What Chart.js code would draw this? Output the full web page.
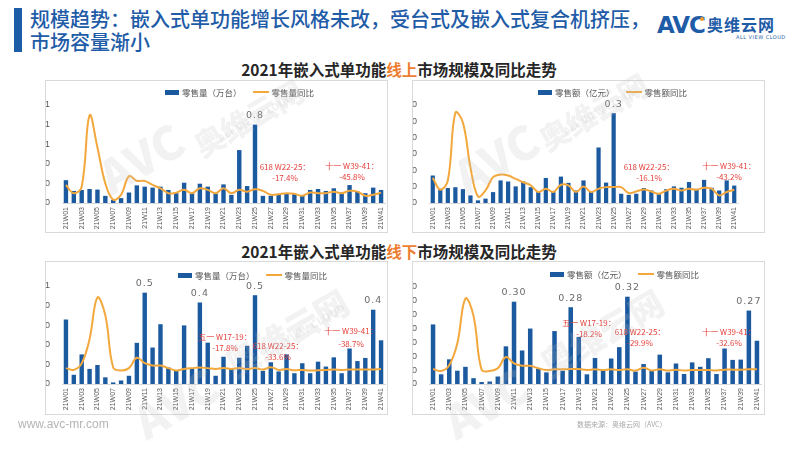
<!DOCTYPE html>
<html>
<head>
<meta charset="utf-8">
<script src="https://cdn.jsdelivr.net/npm/chart.js@4.4.0/dist/chart.umd.min.js"></script>
<style>
  body { margin: 0; width: 800px; height: 450px; background: #fff; position: relative; overflow: hidden;
         font-family: "Noto Sans CJK SC", "Noto Sans", sans-serif; }
  .side-bar { position: absolute; left: 14px; top: 8px; width: 8px; height: 44px; background: #1f5ca8; }
  .main-title { position: absolute; left: 30px; top: 7px; font-size: 20px; line-height: 23px; color: #1f5ca8; font-weight: 500; white-space: nowrap; }
  .logo-avc { position: absolute; left: 657px; top: 12px; font: 900 23px "DejaVu Sans", sans-serif; color: #1f5ca8; letter-spacing: -1px; }
  .logo-dot { position: absolute; left: 700px; top: 17px; width: 4px; height: 4px; border-radius: 2px; background: #f39a2b; }
  .logo-cn { position: absolute; left: 707px; top: 12px; font-size: 16px; font-weight: 700; color: #1f5ca8; letter-spacing: 1px; }
  .logo-en { position: absolute; left: 736px; top: 34px; font: 5px "DejaVu Sans", sans-serif; color: #1f5ca8; letter-spacing: 0.5px; }
  .sec-title { position: absolute; left: 0; width: 798px; text-align: center; font-size: 15.5px; font-weight: 700; color: #262626; white-space: nowrap; }
  .sec-title span { color: #ed7d31; }
  .panel { position: absolute; border: 1px solid #d9d9d9; box-sizing: border-box; overflow: hidden; }
  .panel canvas { position: absolute; left: -1px; top: -1px; }
  .legend { position: absolute; display: flex; align-items: center; font-size: 8.5px; color: #595959; white-space: nowrap; height: 12px; }
  .legend .mk-bar { width: 14px; height: 5px; margin-right: 3px; }
  .legend .mk-line { width: 16px; height: 2px; margin-right: 3px; margin-left: 11px; }
  .note { position: absolute; transform: translateX(-50%); color: #e5423d; font-size: 8px; text-align: center; line-height: 10.5px; white-space: nowrap; }
  .wm { position: absolute; color: rgba(190,190,190,0.2); font-weight: 900; white-space: nowrap; transform-origin: left top; pointer-events: none; }
  .footer { position: absolute; left: 18px; top: 417px; font: 12px "Liberation Sans", sans-serif; color: #b4b4b4; }
  .source { position: absolute; left: 577px; top: 419px; font-size: 7px; color: #aaa; }
</style>
</head>
<body>
<div class="side-bar"></div>
<div class="main-title">规模趋势：嵌入式单功能增长风格未改，受台式及嵌入式复合机挤压，<br>市场容量渐小</div>
<div class="logo-avc">AVC</div>
<div class="logo-dot"></div>
<div class="logo-cn">奥维云网</div>
<div class="logo-en">ALL VIEW CLOUD</div>

<div class="sec-title" style="top:58px">2021年嵌入式单功能<span>线上</span>市场规模及同比走势</div>
<div class="sec-title" style="top:240px">2021年嵌入式单功能<span>线下</span>市场规模及同比走势</div>

<div class="panel" style="left:45px;top:80px;width:343px;height:153px"><canvas id="c1" width="343" height="153"></canvas></div>
<div class="panel" style="left:412px;top:80px;width:353px;height:153px"><canvas id="c2" width="353" height="153"></canvas></div>
<div class="panel" style="left:45px;top:261px;width:343px;height:154px"><canvas id="c3" width="343" height="154"></canvas></div>
<div class="panel" style="left:412px;top:261px;width:353px;height:154px"><canvas id="c4" width="353" height="154"></canvas></div>

<div class="legend" id="lg1" style="left:165px;top:86px"></div>
<div class="legend" id="lg2" style="left:538px;top:86px"></div>
<div class="legend" id="lg3" style="left:178px;top:269px"></div>
<div class="legend" id="lg4" style="left:550px;top:268px"></div>

<div class="note" style="left:285px;top:162px">618 W22-25：<br>-17.4%</div>
<div class="note" style="left:352px;top:161px">十一 W39-41：<br>-45.8%</div>
<div class="note" style="left:649px;top:162px">618 W22-25：<br>-16.1%</div>
<div class="note" style="left:729px;top:161px">十一 W39-41：<br>-43.2%</div>
<div class="note" style="left:225px;top:332px">五一 W17-19：<br>-17.8%</div>
<div class="note" style="left:278px;top:341px">618 W22-25：<br>-33.6%</div>
<div class="note" style="left:351px;top:324px;line-height:13px">十一 W39-41：<br>-38.7%</div>
<div class="note" style="left:589px;top:318px">五一 W17-19：<br>-18.2%</div>
<div class="note" style="left:640px;top:327px">618 W22-25：<br>-29.9%</div>
<div class="note" style="left:729px;top:327px">十一 W39-41：<br>-32.6%</div>

<div class="wm" style="left:85px;top:150px;font-size:46px;transform:rotate(-30deg)">AVC</div>
<div class="wm" style="left:185px;top:128px;font-size:30px;transform:rotate(-30deg)">奥维云网</div>
<div class="wm" style="left:215px;top:132px;font-size:10px;transform:rotate(-30deg)">ALL VIEW CLOUD</div>
<div class="wm" style="left:440px;top:150px;font-size:46px;transform:rotate(-30deg)">AVC</div>
<div class="wm" style="left:530px;top:122px;font-size:30px;transform:rotate(-30deg)">奥维云网</div>
<div class="wm" style="left:560px;top:125px;font-size:10px;transform:rotate(-30deg)">ALL VIEW CLOUD</div>
<div class="wm" style="left:120px;top:395px;font-size:46px;transform:rotate(-30deg)">AVC</div>
<div class="wm" style="left:215px;top:345px;font-size:34px;transform:rotate(-30deg)">奥维云网</div>
<div class="wm" style="left:260px;top:345px;font-size:11px;transform:rotate(-30deg)">ALL VIEW CLOUD</div>
<div class="wm" style="left:430px;top:395px;font-size:46px;transform:rotate(-30deg)">AVC</div>
<div class="wm" style="left:530px;top:345px;font-size:34px;transform:rotate(-30deg)">奥维云网</div>

<div class="footer">www.avc-mr.com</div>
<div class="source">数据来源：奥维云网（AVC）</div>

<script>
// Data
const weeks = ['21W01','21W02','21W03','21W04','21W05','21W06','21W07','21W08','21W09','21W10',
  '21W11','21W12','21W13','21W14','21W15','21W16','21W17','21W18','21W19','21W20',
  '21W21','21W22','21W23','21W24','21W25','21W26','21W27','21W28','21W29','21W30',
  '21W31','21W32','21W33','21W34','21W35','21W36','21W37','21W38','21W39','21W40','21W41'];

// 线上 零售量（万台） / 同比
const onlineQty = [0.233,0.123,0.133,0.143,0.137,0.073,0.033,0.05,0.107,0.18,
  0.167,0.157,0.167,0.133,0.1,0.207,0.1,0.197,0.167,0.1,
  0.19,0.083,0.54,0.173,0.8,0.073,0.073,0.083,0.1,0.093,
  0.073,0.133,0.143,0.123,0.15,0.107,0.183,0.117,0.1,0.157,0.133];
const onlineQtyYoy = [-8,-50,-17,347,183,0,-83,-58,37,13,
  13,-8,-25,-50,-47,-33,-50,-25,-33,-50,
  -25,-50,-33,-42,-30,-38,-58,-55,-50,-53,
  -63,-47,-50,-50,-42,-50,-38,-42,-63,-58,-47];

// 线上 零售额（亿元） / 同比
const onlineAmt = [0.101,0.052,0.055,0.058,0.051,0.028,0.0097,0.016,0.040,0.083,
  0.079,0.061,0.079,0.058,0.040,0.092,0.040,0.097,0.074,0.046,
  0.083,0.040,0.204,0.075,0.33,0.034,0.030,0.034,0.055,0.046,
  0.032,0.051,0.061,0.056,0.077,0.052,0.085,0.056,0.046,0.083,0.064];
const onlineAmtYoy = [28,-32,15,361,310,82,-66,-36,32,45,
  40,23,6,-10,-44,-27,-44,-7,-10,-44,
  -16,-44,-27,-19,-19,-19,-49,-41,-31,-41,
  -53,-36,-27,-36,-27,-32,-22,-27,-61,-44,-32];

// 线下 零售量（万台） / 同比
const offlineQty = [0.329,0.047,0.151,0.077,0.097,0.034,0.008,0.018,0.042,0.21,
  0.466,0.186,0.305,0.084,0.067,0.299,0.081,0.416,0.211,0.042,
  0.139,0.081,0.134,0.195,0.453,0.067,0.111,0.064,0.151,0.055,
  0.106,0.055,0.114,0.089,0.136,0.055,0.181,0.117,0.133,0.379,0.223];
const offlineQtyYoy = [-19,-28,5,130,341,250,-16,-31,-19,34,
  6,-6,-6,-19,-31,-23,-19,-16,-19,-23,
  -19,-23,-19,-24,-19,-26,-14,-28,-24,-30,
  -28,-31,-30,-28,-26,-28,-26,-26,-26,-26,-24];

// 线下 零售额（亿元） / 同比
const offlineAmt = [0.215,0.035,0.089,0.048,0.062,0.021,0.007,0.009,0.027,0.136,
  0.297,0.121,0.2,0.056,0.042,0.191,0.048,0.277,0.17,0.035,
  0.094,0.052,0.092,0.133,0.315,0.045,0.072,0.047,0.106,0.042,
  0.074,0.036,0.078,0.062,0.093,0.036,0.128,0.087,0.088,0.265,0.156];
const offlineAmtYoy = [-23,-33,-3,110,341,250,-27,-33,-19,39,
  6,-6,-6,-19,-28,-24,-24,-23,-23,-28,
  -24,-28,-24,-28,-24,-31,-16,-30,-24,-31,
  -26,-31,-28,-28,-28,-30,-26,-26,-26,-24,-24];

// y tick texts as they show in the picture (cut off at the frame)
const onlineQtyTicks = ['0','0','0','1','1','1'];
const onlineAmtTicks = ['0','0','0','0','0','0','0'];
const offlineQtyTicks = ['0','0','0','0','0','1'];
const offlineAmtTicks = ['0','0','0','0','0','0','0','0'];

// value labels above selected bars
const onlineQtyLabelIdx = [24], onlineQtyLabelTxt = ['0.8'];
const onlineAmtLabelIdx = [24], onlineAmtLabelTxt = ['0.3'];
const offlineQtyLabelIdx = [10, 17, 24, 39], offlineQtyLabelTxt = ['0.5', '0.4', '0.5', '0.4'];
const offlineAmtLabelIdx = [10, 17, 24, 39], offlineAmtLabelTxt = ['0.30', '0.28', '0.32', '0.27'];

const qtyNames = ['零售量（万台）', '零售量同比'];
const amtNames = ['零售额（亿元）', '零售额同比'];

const BLUE = '#1c5aa0';
const ORANGE = '#f3a83d';

// --- Functions ---

// bar value labels + axis texts, placed from the chart's own scales
const chartTexts = {
  id: 'chartTexts',
  afterDraw(chart, args, opts) {
    const ctx = chart.ctx;
    const xs = chart.scales.x;
    const ys = chart.scales.y;
    const meta = chart.getDatasetMeta(1);
    ctx.save();
    ctx.fillStyle = '#595959';

    // y axis
    ctx.font = '9px "Liberation Sans", sans-serif';
    ctx.textAlign = 'right';
    ctx.textBaseline = 'middle';
    ys.ticks.forEach((t, i) => {
      ctx.fillText(opts.yTicks[i] || '', ys.right - 12, ys.getPixelForValue(t.value));
    });

    // x axis, every other week, vertical
    ctx.font = '7px "Liberation Sans", sans-serif';
    weeks.forEach((w, i) => {
      if (i % 2) return;
      ctx.save();
      ctx.translate(xs.getPixelForTick(i), xs.top + 4);
      ctx.rotate(-Math.PI / 2);
      ctx.textAlign = 'right';
      ctx.fillText(w, 0, 0);
      ctx.restore();
    });

    // values over bars
    ctx.font = '9.5px "DejaVu Sans", sans-serif';
    ctx.letterSpacing = '1px';
    ctx.fillStyle = '#6b6b6b';
    ctx.textAlign = 'center';
    ctx.textBaseline = 'bottom';
    opts.idx.forEach((i, k) => {
      const bar = meta.data[i];
      ctx.fillText(opts.txt[k], bar.x, bar.y - 4);
    });
    ctx.restore();
  }
};

function renderLegend(id, names) {
  const el = document.getElementById(id);
  el.innerHTML = `<span class="mk-bar" style="background:${BLUE}"></span>${names[0]}` +
    `<span class="mk-line" style="background:${ORANGE}"></span>${names[1]}`;
}

function makeChart(id, cfg) {
  new Chart(document.getElementById(id), {
    type: 'bar',
    data: {
      labels: weeks,
      datasets: [
        {
          type: 'line',
          label: cfg.names[1],
          data: cfg.line,
          yAxisID: 'y1',
          borderColor: ORANGE,
          borderWidth: 2,
          pointRadius: 0,
          tension: 0.4,
          order: 0
        },
        {
          type: 'bar',
          label: cfg.names[0],
          data: cfg.bars,
          yAxisID: 'y',
          backgroundColor: BLUE,
          categoryPercentage: 1,
          barPercentage: 0.56,
          order: 1
        }
      ]
    },
    plugins: [chartTexts],
    options: {
      responsive: false,
      animation: false,
      devicePixelRatio: 1,
      layout: { padding: { left: 3, right: cfg.padRight, top: cfg.padTop, bottom: 0 } },
      plugins: {
        legend: { display: false },
        tooltip: { enabled: false },
        chartTexts: { idx: cfg.labelIdx, txt: cfg.labelTxt, yTicks: cfg.ticks }
      },
      scales: {
        x: {
          grid: { display: false },
          border: { display: true, color: '#d9d9d9' },
          afterFit: s => { s.height = cfg.xHeight; },
          ticks: { display: false }
        },
        y: {
          min: 0,
          max: cfg.yMax,
          grid: { display: false },
          border: { display: false },
          afterFit: s => { s.width = 14; },
          ticks: { display: false, stepSize: cfg.yStep }
        },
        y1: { display: false, min: -100, max: 400 }
      }
    }
  });
}

renderLegend('lg1', qtyNames);
renderLegend('lg2', amtNames);
renderLegend('lg3', qtyNames);
renderLegend('lg4', amtNames);

makeChart('c1', { bars: onlineQty, line: onlineQtyYoy, names: qtyNames, yMax: 1.0, yStep: 0.2,
  ticks: onlineQtyTicks, labelIdx: onlineQtyLabelIdx, labelTxt: onlineQtyLabelTxt, padRight: 3, padTop: 25, xHeight: 30 });
makeChart('c2', { bars: onlineAmt, line: onlineAmtYoy, names: amtNames, yMax: 0.36, yStep: 0.06,
  ticks: onlineAmtTicks, labelIdx: onlineAmtLabelIdx, labelTxt: onlineAmtLabelTxt, padRight: 27, padTop: 25, xHeight: 30 });
makeChart('c3', { bars: offlineQty, line: offlineQtyYoy, names: qtyNames, yMax: 0.5, yStep: 0.1,
  ticks: offlineQtyTicks, labelIdx: offlineQtyLabelIdx, labelTxt: offlineQtyLabelTxt, padRight: 3, padTop: 25, xHeight: 31 });
makeChart('c4', { bars: offlineAmt, line: offlineAmtYoy, names: amtNames, yMax: 0.35, yStep: 0.05,
  ticks: offlineAmtTicks, labelIdx: offlineAmtLabelIdx, labelTxt: offlineAmtLabelTxt, padRight: 4, padTop: 26, xHeight: 31 });
</script>
</body>
</html>
